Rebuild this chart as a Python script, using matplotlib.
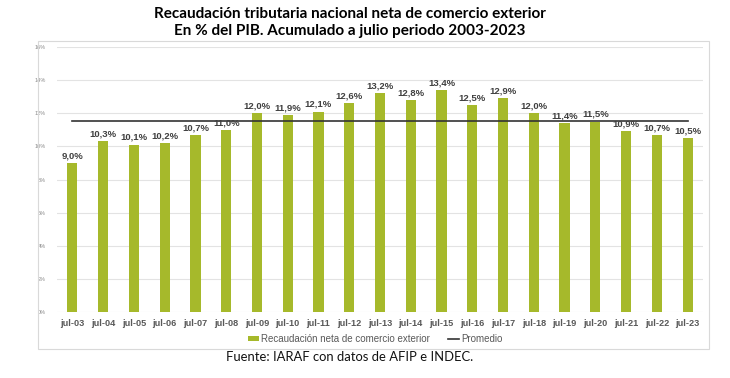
import numpy as np
import matplotlib
matplotlib.use("Agg")
import matplotlib.pyplot as plt
from matplotlib.patches import Rectangle
from matplotlib.ticker import FuncFormatter

periodos = ["jul-03", "jul-04", "jul-05", "jul-06", "jul-07", "jul-08", "jul-09",
            "jul-10", "jul-11", "jul-12", "jul-13", "jul-14", "jul-15", "jul-16",
            "jul-17", "jul-18", "jul-19", "jul-20", "jul-21", "jul-22", "jul-23"]
recaudacion = [9.0, 10.3, 10.1, 10.2, 10.7, 11.0, 12.0, 11.9, 12.1, 12.6, 13.2,
               12.8, 13.4, 12.5, 12.9, 12.0, 11.4, 11.5, 10.9, 10.7, 10.5]
promedio = round(sum(recaudacion) / len(recaudacion), 2)

titulo = ("Recaudación tributaria nacional neta de comercio exterior\n"
          "En % del PIB. Acumulado a julio periodo 2003-2023")
fuente = "Fuente: IARAF con datos de AFIP e INDEC."

verde = "#A6B92B"

fig = plt.figure(figsize=(7.3, 3.78), dpi=100)
fig.patch.set_facecolor("white")

# marco del grafico
fig.patches.append(Rectangle((38 / 730, 1 - 349 / 378), 671 / 730, 308 / 378,
                             transform=fig.transFigure, fill=False,
                             edgecolor="#d9d9d9", linewidth=0.8))

ax = fig.add_axes([57 / 730, 66 / 378, 646 / 730, 265 / 378])
x = np.arange(len(periodos))
barras = ax.bar(x, recaudacion, width=0.33, color=verde,
                label="Recaudación neta de comercio exterior", zorder=2)
linea, = ax.plot(x, [promedio] * len(x), color="#333333", linewidth=1.2,
                 label="Promedio", zorder=3)

for xi, v in zip(x, recaudacion):
    ax.annotate(f"{v:.1f}%".replace(".", ","), (xi, v), xytext=(0, 2),
                textcoords="offset points", ha="center", va="bottom",
                fontsize=6.8, fontweight="bold", color="#404040",
                family="Liberation Sans")

ax.set_xlim(-0.5, len(x) - 0.5)
ax.set_ylim(0, 16)
ax.set_yticks(np.arange(0, 17, 2))
ax.yaxis.set_major_formatter(FuncFormatter(lambda v, p: f"{v:.0f}%"))
ax.set_xticks(x)
ax.set_xticklabels(periodos, fontsize=6.6, fontweight="bold", color="#595959",
                   family="Liberation Sans")
for lbl in ax.get_yticklabels():
    lbl.set_fontsize(4)
    lbl.set_color("#8c8c8c")
    lbl.set_family("Liberation Sans")
ax.tick_params(axis="both", length=0)
ax.tick_params(axis="x", pad=5)
ax.tick_params(axis="y", pad=8)
ax.grid(axis="y", color="#e3e3e3", linewidth=0.8, zorder=0)
for s in ax.spines.values():
    s.set_visible(False)

fig.legend([barras, linea], [barras.get_label(), linea.get_label()],
           loc="center", bbox_to_anchor=(0.514, 1 - 339 / 378), ncol=2,
           frameon=False, prop={"family": "Liberation Sans", "size": 7},
           labelcolor="#595959", handlelength=1.2, handletextpad=0.2,
           columnspacing=1.8, handleheight=0.5)

fig.text(0.479, 1 - 22.5 / 378, titulo, ha="center", va="center",
         fontsize=11, fontweight="bold", family="Lato", linespacing=1.35)
fig.text(0.479, 1 - 357 / 378, fuente, ha="center", va="center",
         fontsize=9.4, family="Lato", color="#111111")

fig.savefig("out.png", dpi=100)
